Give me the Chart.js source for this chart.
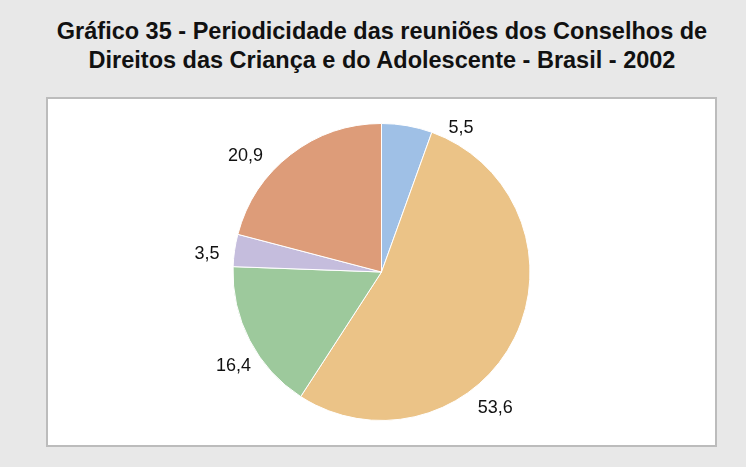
<!DOCTYPE html>
<html>
<head>
<meta charset="utf-8">
<script src="https://cdn.jsdelivr.net/npm/chart.js@4"></script>
<style>
  html, body { margin: 0; padding: 0; }
  body { width: 746px; height: 467px; background: #e8e8e8; position: relative; overflow: hidden; }
  .titulo {
    position: absolute; left: 9px; top: 17px; width: 746px;
    text-align: center; font-family: "Liberation Sans", Arial, sans-serif;
    font-weight: bold; font-size: 23.5px; line-height: 29px; color: #111;
  }
  .quadro {
    position: absolute; left: 46px; top: 97px; width: 671px; height: 350px;
    box-sizing: border-box; border: 2px solid #bcbcbc; background: #fff;
  }
  .quadro canvas { display: block; }
</style>
</head>
<body>
<div class="titulo">Gráfico 35 - Periodicidade das reuniões dos Conselhos de<br>Direitos das Criança e do Adolescente - Brasil - 2002</div>
<div class="quadro"><canvas id="grafico" width="667" height="346"></canvas></div>
<script>
  // fatias em sentido horário a partir do topo
  const categorias = ["Semanal", "Mensal", "Quinzenal", "Bimestral", "Outra"];
  const percentuais = [5.5, 53.6, 16.4, 3.5, 20.9];
  const cores = ["#9fc0e6", "#ebc387", "#9dc99c", "#c5bddd", "#dd9c79"];

  // ajuste angular (graus) e distância dos rótulos em relação ao centro da fatia
  const desvioRotulo = [19, 23.7, -5, -2.5, -12];
  const distRotulo = [16, 29, 27, 27, 30];

  const rotulos = {
    id: "rotulos",
    afterDatasetsDraw(chart) {
      const ctx = chart.ctx;
      const arcos = chart.getDatasetMeta(0).data;
      ctx.save();
      ctx.font = "18px 'Liberation Sans', Arial, sans-serif";
      ctx.fillStyle = "#111";
      ctx.textAlign = "center";
      ctx.textBaseline = "middle";
      arcos.forEach((arc, i) => {
        const a = (arc.startAngle + arc.endAngle) / 2 + desvioRotulo[i] * Math.PI / 180;
        const r = arc.outerRadius + distRotulo[i];
        const texto = percentuais[i].toFixed(1).replace(".", ",");
        ctx.fillText(texto, arc.x + Math.cos(a) * r, arc.y + Math.sin(a) * r);
      });
      ctx.restore();
    }
  };

  new Chart(document.getElementById("grafico"), {
    type: "pie",
    data: {
      labels: categorias,
      datasets: [{
        data: percentuais,
        backgroundColor: cores,
        borderColor: "#ffffff",
        borderWidth: 1
      }]
    },
    options: {
      responsive: false,
      animation: false,
      layout: { padding: { top: 24, bottom: 24 } },
      plugins: {
        legend: { display: false },
        tooltip: { enabled: false }
      }
    },
    plugins: [rotulos]
  });
</script>
</body>
</html>
